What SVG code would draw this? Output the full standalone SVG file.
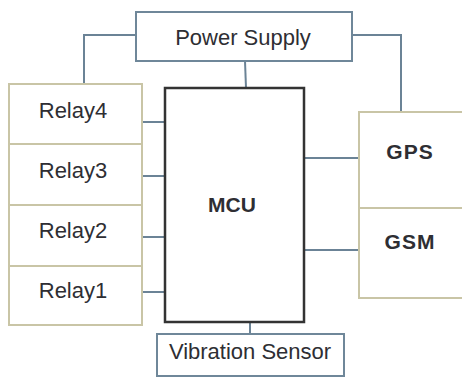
<svg xmlns="http://www.w3.org/2000/svg" width="462" height="377" viewBox="0 0 462 377">
<style>
.bg{fill:#ffffff}
.blue{fill:#ffffff;stroke:#6f8799;stroke-width:2}
.khaki{fill:#ffffff;stroke:#c9c5a6;stroke-width:2}
.mcu{fill:#ffffff;stroke:#333333;stroke-width:2.5}
.conn{fill:none;stroke:#6b8396;stroke-width:2}
.t{font-family:"Liberation Sans",Arial,sans-serif;font-size:22px;fill:#2e2e33;text-anchor:middle}
.b{font-weight:bold;font-size:21px}
</style>
<rect class="bg" x="0" y="0" width="462" height="377"/>
<g id="connectors">
<polyline class="conn" points="136,35 84,35 84,84"/>
<polyline class="conn" points="352,35 401,35 401,112"/>
<line class="conn" x1="245" y1="61" x2="246" y2="88"/>
<line class="conn" x1="142" y1="122" x2="165" y2="122"/>
<line class="conn" x1="142" y1="176" x2="165" y2="176"/>
<line class="conn" x1="142" y1="237" x2="165" y2="237"/>
<line class="conn" x1="142" y1="292" x2="165" y2="292"/>
<line class="conn" x1="304" y1="158" x2="359" y2="158"/>
<line class="conn" x1="304" y1="250" x2="359" y2="250"/>
<line class="conn" x1="250" y1="322" x2="250" y2="334"/>
</g>
<g id="power-supply">
<rect class="blue" x="136" y="12" width="216" height="49"/>
<text class="t" x="243" y="45">Power Supply</text>
</g>
<g id="relay4">
<rect class="khaki" x="9" y="84" width="133" height="60"/>
<text class="t" x="73" y="118">Relay4</text>
</g>
<g id="relay3">
<rect class="khaki" x="9" y="144" width="133" height="61"/>
<text class="t" x="73" y="178">Relay3</text>
</g>
<g id="relay2">
<rect class="khaki" x="9" y="205" width="133" height="61"/>
<text class="t" x="73" y="238">Relay2</text>
</g>
<g id="relay1">
<rect class="khaki" x="9" y="266" width="133" height="59"/>
<text class="t" x="73" y="298">Relay1</text>
</g>
<g id="mcu">
<rect class="mcu" x="165" y="88" width="139" height="234"/>
<text class="t b" x="232" y="212">MCU</text>
</g>
<g id="gps">
<rect class="khaki" x="359" y="112" width="110" height="96"/>
<text class="t b" x="410" y="159" letter-spacing="1">GPS</text>
</g>
<g id="gsm">
<rect class="khaki" x="359" y="208" width="110" height="90"/>
<text class="t b" x="410" y="249" letter-spacing="1">GSM</text>
</g>
<g id="vibration-sensor">
<rect class="blue" x="157" y="334" width="187" height="42"/>
<text class="t" x="250" y="359">Vibration Sensor</text>
</g>
</svg>
